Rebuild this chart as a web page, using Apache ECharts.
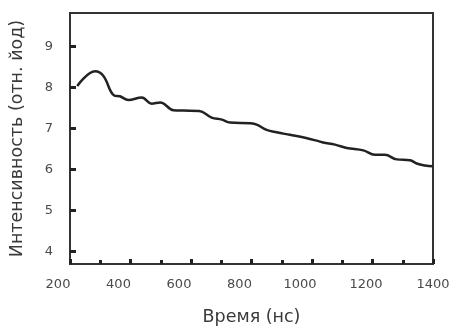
<!DOCTYPE html>
<html>
<head>
<meta charset="utf-8">
<script src="https://cdn.jsdelivr.net/npm/echarts@6/dist/echarts.min.js"></script>
<style>html,body{margin:0;padding:0;background:#fff}#c{width:454px;height:331px}</style>
</head>
<body>
<div id="c"></div>
<script>
const timeNs = [224, 283, 310, 346, 365, 393, 437, 470, 498, 542, 575, 627, 668, 702, 729, 795, 817, 850, 883, 927, 977, 1024, 1037, 1076, 1115, 1170, 1208, 1241, 1280, 1324, 1346, 1374, 1399];
const intensity = [8.03, 8.39, 8.28, 7.80, 7.78, 7.69, 7.75, 7.60, 7.63, 7.44, 7.43, 7.42, 7.26, 7.21, 7.14, 7.12, 7.09, 6.96, 6.90, 6.84, 6.77, 6.68, 6.65, 6.60, 6.52, 6.46, 6.35, 6.35, 6.24, 6.22, 6.14, 6.09, 6.07];
const yTicks = [4, 5, 6, 7, 8, 9];
const xLabels = [200, 400, 600, 800, 1000, 1200, 1400];
const xName = 'Время (нс)';
const yName = 'Интенсивность (отн. йод)';

const chart = echarts.init(document.getElementById('c'), null, {renderer: 'canvas'});
const font = 'DejaVu Sans';
const lblColor = '#4a4a4a';
chart.setOption({
  animation: false,
  grid: {left: 70, top: 13, width: 363, height: 254, show: true, borderColor: '#333', borderWidth: 2},
  xAxis: {
    type: 'value', min: 200, max: 1400, interval: 200,
    name: xName, nameLocation: 'middle', nameGap: 44,
    nameTextStyle: {fontFamily: font, fontSize: 17.5, color: '#3a3a3a'},
    axisLine: {show: true, lineStyle: {color: '#333', width: 2}},
    axisTick: {show: true, inside: true, length: 5, lineStyle: {color: '#222', width: 3}},
    minorTick: {show: true, splitNumber: 2, length: 4, lineStyle: {color: '#222', width: 3}},
    splitLine: {show: false},
    axisLabel: {
      customValues: xLabels,
      margin: 14,
      fontFamily: font, fontSize: 13, color: lblColor,
      formatter: function (v) {
        if (v === 1400) return '{c|' + v + '}';
        if (v === 1200) return '{b|' + v + '}';
        return '{a|' + v + '}';
      },
      rich: {
        a: {fontFamily: font, fontSize: 13, color: lblColor, padding: [0, 24, 0, 0]},
        b: {fontFamily: font, fontSize: 13, color: lblColor, padding: [0, 13, 0, 0]},
        c: {fontFamily: font, fontSize: 13, color: lblColor, padding: [0, 0, 0, 0]}
      }
    }
  },
  yAxis: {
    type: 'value', min: 3.686, max: 9.813,
    name: yName, nameLocation: 'middle', nameGap: 44, nameRotate: 90,
    nameTextStyle: {fontFamily: font, fontSize: 17.5, color: '#3a3a3a'},
    axisLine: {show: true, lineStyle: {color: '#333', width: 2}},
    axisTick: {show: true, inside: true, length: 6, customValues: yTicks, lineStyle: {color: '#222', width: 3}},
    splitLine: {show: false},
    axisLabel: {customValues: yTicks, margin: 17, fontFamily: font, fontSize: 13, color: lblColor}
  },
  series: [{
    type: 'line',
    data: timeNs.map((t, i) => [t, intensity[i]]),
    smooth: 0.4,
    showSymbol: false,
    lineStyle: {color: '#222', width: 2.5}
  }]
});
</script>
</body>
</html>
